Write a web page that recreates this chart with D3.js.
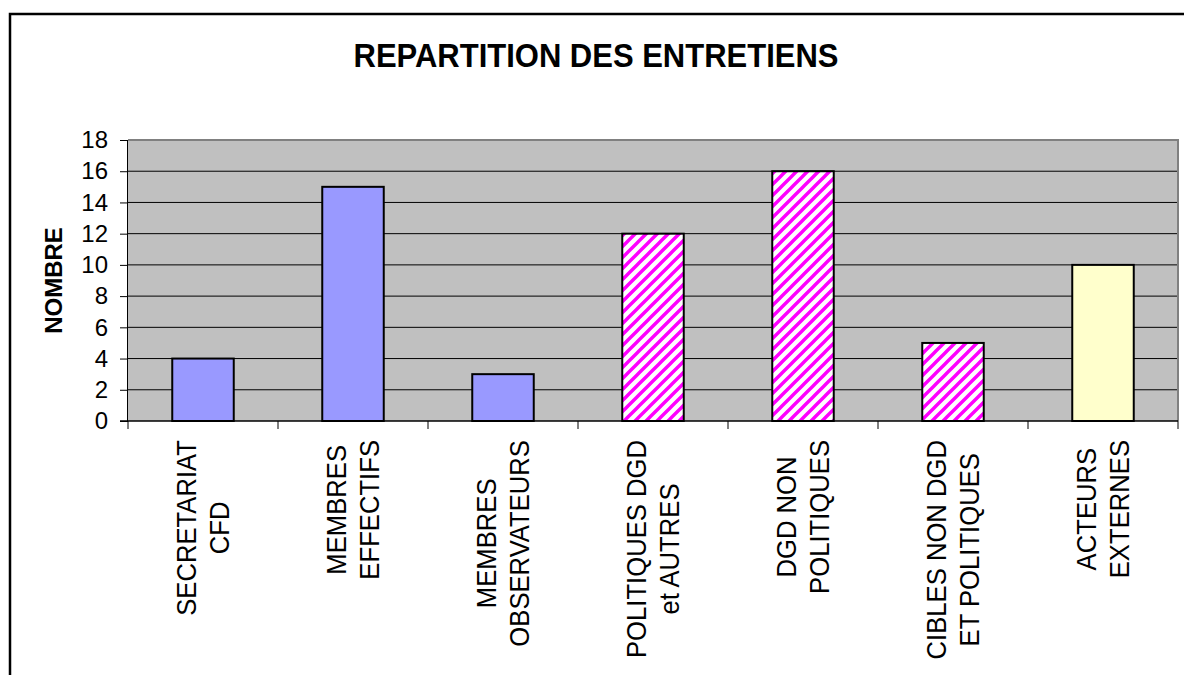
<!DOCTYPE html>
<html><head><meta charset="utf-8">
<script src="https://cdn.jsdelivr.net/npm/d3@7"></script>
<style>body{margin:0;background:#fff}svg{display:block;font-family:Arial,"Liberation Sans",sans-serif}</style>
</head><body><svg id="c" width="1184" height="675"></svg>
<script>
const title = "REPARTITION DES ENTRETIENS";
const yTitle = "NOMBRE";
const categories = [
  ["SECRETARIAT","CFD"],
  ["MEMBRES","EFFECTIFS"],
  ["MEMBRES","OBSERVATEURS"],
  ["POLITIQUES DGD","et AUTRES"],
  ["DGD NON","POLITIQUES"],
  ["CIBLES NON DGD","ET POLITIQUES"],
  ["ACTEURS","EXTERNES"]
];
const values = [4, 15, 3, 12, 16, 5, 10];
const groups = ["blue","blue","blue","hatch","hatch","hatch","yellow"];
const yTicks = [0,2,4,6,8,10,12,14,16,18];

const svg = d3.select("#c");
const defs = svg.append("defs");
const P = 11;
const pat = defs.append("pattern").attr("id","hatch").attr("patternUnits","userSpaceOnUse")
  .attr("width",P).attr("height",P);
pat.append("rect").attr("width",P).attr("height",P).attr("fill","#fff");
pat.append("path").attr("d",`M-3,3 L3,-3 M0,${P} L${P},0 M${P-3},${P+3} L${P+3},${P-3}`)
  .attr("stroke","#ff00ff").attr("stroke-width",3.4);

const fills = {blue:"#9999ff", hatch:"url(#hatch)", yellow:"#ffffcc"};

// outer frame
svg.append("path").attr("d","M10,680 L10,14 L1190,14").attr("fill","none").attr("stroke","#000").attr("stroke-width",2.5);

const L=128, R=1178, T=140, B=421;
const x = d3.scaleBand().domain(d3.range(categories.length)).range([L,R]).paddingInner(0).paddingOuter(0);
const y = d3.scaleLinear().domain([0,18]).range([B,T]);

svg.append("rect").attr("x",L).attr("y",T).attr("width",R-L).attr("height",B-T).attr("fill","#c0c0c0");
// gridlines
svg.append("g").selectAll("line").data(yTicks.filter(d=>d>0 && d<18)).join("line")
  .attr("x1",L).attr("x2",R).attr("y1",d=>y(d)).attr("y2",d=>y(d)).attr("stroke","#000").attr("stroke-width",1);
// plot border (top/right gray)
svg.append("path").attr("d",`M${L},${T} L${R},${T} L${R},${B}`).attr("fill","none").attr("stroke","#808080").attr("stroke-width",2);

// bars
const bw = 61.5;
svg.append("g").selectAll("rect").data(values).join("rect")
  .attr("x",(d,i)=>x(i)+x.bandwidth()/2-bw/2).attr("width",bw)
  .attr("y",d=>y(d)).attr("height",d=>B-y(d))
  .attr("fill",(d,i)=>fills[groups[i]]).attr("stroke","#000").attr("stroke-width",2);

// y axis
const ya = svg.append("g").attr("transform",`translate(${L},0)`)
  .call(d3.axisLeft(y).tickValues(yTicks).tickSize(8).tickPadding(12).tickFormat(d3.format("d")));
ya.select(".domain").attr("stroke","#000").attr("d",`M-0.5,${T}V${B}`);
ya.selectAll(".tick line").attr("stroke","#000");
ya.selectAll("text").attr("font-size",24).attr("fill","#000").attr("font-family","Arial,'Liberation Sans',sans-serif");

// x axis
const xa = svg.append("g").attr("transform",`translate(0,${B})`);
xa.append("line").attr("x1",L-8).attr("x2",R).attr("y1",0).attr("y2",0).attr("stroke","#000").attr("stroke-width",1.5);
xa.selectAll("line.t").data(d3.range(categories.length+1)).join("line").attr("class","t")
  .attr("x1",i=>L+i*x.bandwidth()).attr("x2",i=>L+i*x.bandwidth()).attr("y1",0).attr("y2",8).attr("stroke","#000");

// category labels (rotated)
const lineGap = 33, topY = 440, fs = 27, sx = 0.95;
categories.forEach((lines,i)=>{
  const cx = x(i)+x.bandwidth()/2;
  const g = svg.append("g");
  const texts = lines.map((ln,k)=>g.append("text").text(ln).attr("font-size",fs).attr("fill","#000").attr("text-anchor","middle"));
  const maxLen = d3.max(texts,t=>t.node().getComputedTextLength())*sx;
  const centerY = topY + maxLen/2;
  const n = lines.length;
  texts.forEach((t,k)=>{
    const bx = cx + (k-(n-1)/2)*lineGap + 9.5; // baseline x
    t.attr("transform",`translate(${bx},${centerY}) rotate(-90) scale(${sx},1)`);
  });
});

// titles
svg.append("text").attr("transform","translate(596,67) scale(1,1.08)").attr("text-anchor","middle").attr("font-size",31).attr("font-weight","bold").text(title);
svg.append("text").attr("transform",`translate(62,${(T+B)/2}) rotate(-90)`).attr("text-anchor","middle").attr("font-size",24).attr("font-weight","bold").text(yTitle);
</script></body></html>
